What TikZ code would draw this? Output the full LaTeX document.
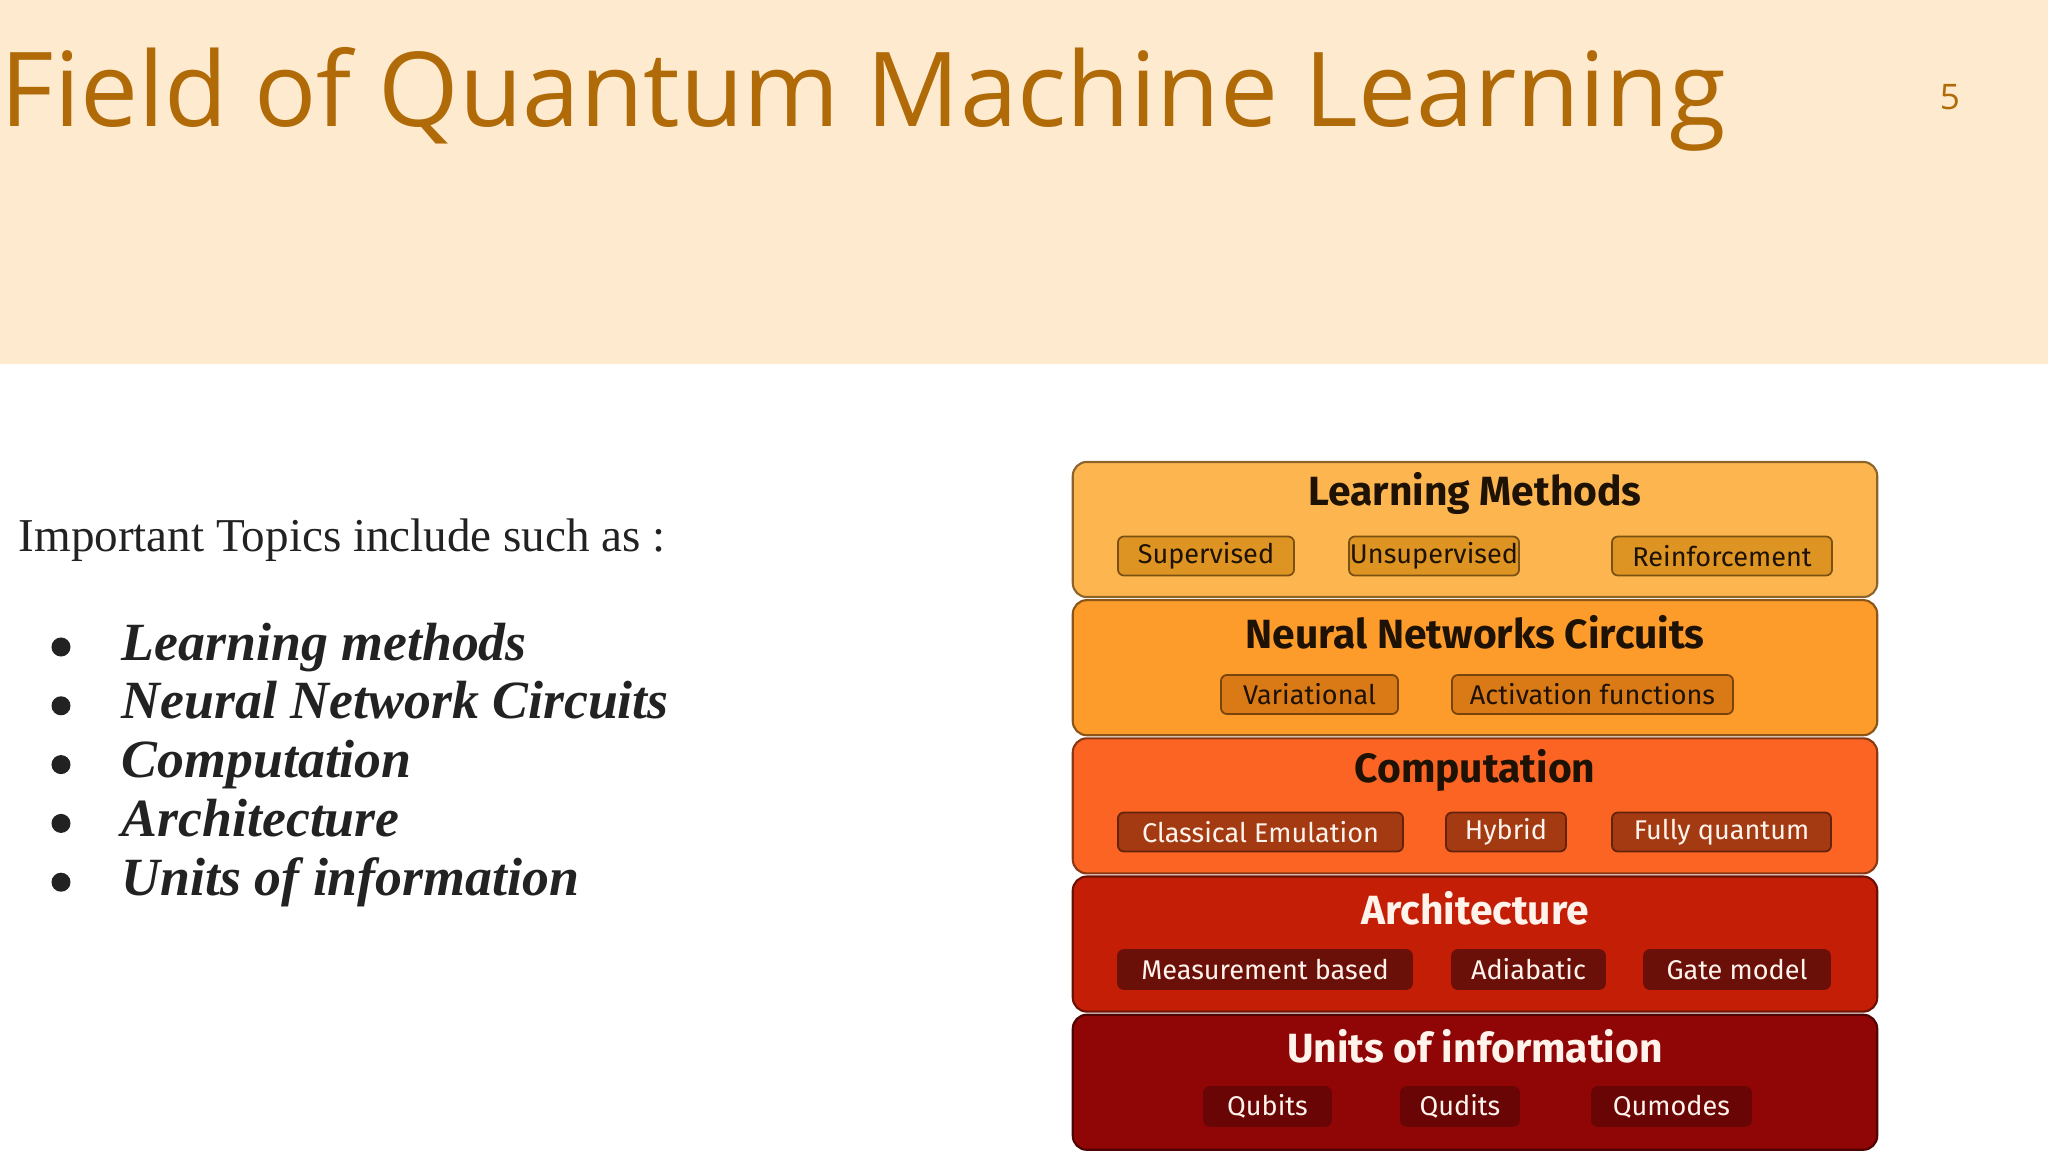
\documentclass[tikz,border=0pt]{standalone}
\usepackage{fontspec}
\setmainfont{Liberation Serif}
\newfontfamily\headfont{Open Sans}
\newfontfamily\stackfont{Fira Sans}
\usepackage{tikz}
\usetikzlibrary{positioning,calc}

\definecolor{headbg}{HTML}{FEEBCF}
\definecolor{headtext}{HTML}{B06A08}
\definecolor{bodytext}{HTML}{222222}
\definecolor{lmfill}{HTML}{FDB64F}
\definecolor{nnfill}{HTML}{FD9B2B}
\definecolor{cpfill}{HTML}{FC6423}
\definecolor{arfill}{HTML}{C41E06}
\definecolor{uifill}{HTML}{900505}
\definecolor{lmsub}{HTML}{DE9422}
\definecolor{nnsub}{HTML}{DA7A16}
\definecolor{cpsub}{HTML}{A33A12}
\definecolor{arsub}{HTML}{6B1008}
\definecolor{uisub}{HTML}{6A0505}
\definecolor{darktext}{HTML}{1E1205}
\definecolor{lighttext}{HTML}{FFF3EC}

\begin{document}
\begin{tikzpicture}[x=0.01cm, y=-0.01cm, node distance=0.01cm,
  layer/.style={rectangle, rounded corners=0.14cm, minimum width=8.04cm, minimum height=1.35cm, line width=0.6pt},
  laytitle/.style={font=\stackfont\bfseries\fontsize{11.6}{14}\selectfont, inner sep=0},
  subbox/.style={rectangle, rounded corners=0.06cm, minimum height=0.39cm, inner sep=0, line width=0.5pt, font=\stackfont\fontsize{7.7}{9}\selectfont},
  bullet/.style={circle, fill=bodytext, inner sep=0, minimum size=0.19cm},
  topic/.style={anchor=base west, inner sep=0, text=bodytext, font=\bfseries\itshape\fontsize{15.3}{18}\selectfont}]
  \useasboundingbox (0,0) rectangle (2048,1152);
  % header band
  \fill[headbg] (0,0) rectangle (2048,364);
  \node[anchor=base west, inner sep=0, text=headtext, font=\headfont\fontsize{29.4}{35}\selectfont] (title) at (0,127) {Field of Quantum Machine Learning};
  \node[anchor=base, inner sep=0, text=headtext, font=\headfont\fontsize{10}{12}\selectfont] (pagenum) at (1950,110) {5};
  % left column
  \node[anchor=base west, inner sep=0, text=bodytext, font=\fontsize{13.4}{16}\selectfont] (intro) at (18,552) {Important Topics include such as :};
  \foreach \txt [count=\i] in {Learning methods, Neural Network Circuits, Computation, Architecture, Units of information} {
    \node[bullet] (dot\i) at (61,{647+58.8*(\i-1)}) {};
    \node[topic] (topic\i) at (121,{660+58.8*(\i-1)}) {\txt};
  }
  % stack of layers
  \node[layer, fill=lmfill, draw=lmfill!55!black] (lm) at (1475,529.5) {};
  \node[layer, fill=nnfill, draw=nnfill!55!black, below=of lm] (nn) {};
  \node[layer, fill=cpfill, draw=cpfill!55!black, below=of nn] (cp) {};
  \node[layer, fill=arfill, draw=arfill!55!black, below=of cp] (ar) {};
  \node[layer, fill=uifill, draw=uifill!55!black, below=of ar] (ui) {};
  \node[laytitle, text=darktext] (lmtitle) at ([yshift=-0.33cm]lm.north) {Learning Methods};
  \node[laytitle, text=darktext] (nntitle) at ([yshift=-0.33cm]nn.north) {Neural Networks Circuits};
  \node[laytitle, text=darktext] (cptitle) at ([yshift=-0.33cm]cp.north) {Computation};
  \node[laytitle, text=lighttext] (artitle) at ([yshift=-0.33cm]ar.north) {Architecture};
  \node[laytitle, text=lighttext] (uititle) at ([yshift=-0.33cm]ui.north) {Units of information};
  % learning methods
  \node[subbox, fill=lmsub, draw=lmsub!55!black, text=darktext, minimum width=1.76cm] (sup) at (1206,556) {Supervised};
  \node[subbox, fill=lmsub, draw=lmsub!55!black, text=darktext, minimum width=1.70cm] (unsup) at (1434,556) {Unsupervised};
  \node[subbox, fill=lmsub, draw=lmsub!55!black, text=darktext, minimum width=2.20cm] (reinf) at (1722,556) {Reinforcement};
  % neural network circuits
  \node[subbox, fill=nnsub, draw=nnsub!55!black, text=darktext, minimum width=1.77cm] (var) at (1309.5,694.5) {Variational};
  \node[subbox, fill=nnsub, draw=nnsub!55!black, text=darktext, minimum width=2.81cm] (act) at (1592.5,694.5) {Activation functions};
  % computation
  \node[subbox, fill=cpsub, draw=cpsub!60!black, text=lighttext, minimum width=2.85cm] (emul) at (1260.5,832) {Classical Emulation};
  \node[subbox, fill=cpsub, draw=cpsub!60!black, text=lighttext, minimum width=1.20cm] (hyb) at (1506,832) {Hybrid};
  \node[subbox, fill=cpsub, draw=cpsub!60!black, text=lighttext, minimum width=2.19cm] (fullq) at (1721.5,832) {Fully quantum};
  % architecture
  \node[subbox, fill=arsub, draw=arsub, text=lighttext, minimum width=2.94cm] (meas) at (1265,969.5) {Measurement based};
  \node[subbox, fill=arsub, draw=arsub, text=lighttext, minimum width=1.53cm] (adia) at (1528.5,969.5) {Adiabatic};
  \node[subbox, fill=arsub, draw=arsub, text=lighttext, minimum width=1.86cm] (gate) at (1737,969.5) {Gate model};
  % units of information
  \node[subbox, fill=uisub, draw=uisub, text=lighttext, minimum width=1.27cm] (qubit) at (1267.5,1106.5) {Qubits};
  \node[subbox, fill=uisub, draw=uisub, text=lighttext, minimum width=1.18cm] (qudit) at (1460,1106.5) {Qudits};
  \node[subbox, fill=uisub, draw=uisub, text=lighttext, minimum width=1.59cm] (qumode) at (1671.5,1106.5) {Qumodes};
\end{tikzpicture}
\end{document}
